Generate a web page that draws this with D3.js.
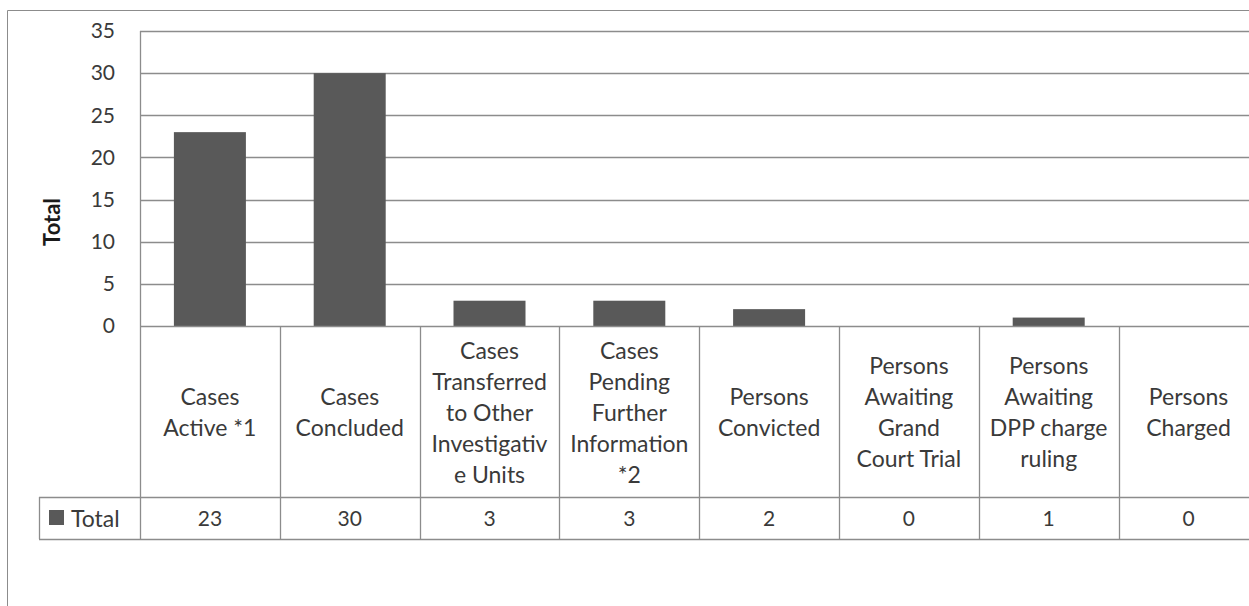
<!DOCTYPE html>
<html>
<head>
<meta charset="utf-8">
<script src="https://cdn.jsdelivr.net/npm/d3@7"></script>
<style>
  body { margin: 0; background: #fff; }
  svg { display: block; font-family: Lato, "Open Sans", sans-serif; }
</style>
</head>
<body>
<div id="mainDiv"></div>
<script>
'use strict';

var categories = ['Cases Active *1', 'Cases Concluded', 'Cases Transferred to Other Investigative Units',
                  'Cases Pending Further Information *2', 'Persons Convicted', 'Persons Awaiting Grand Court Trial',
                  'Persons Awaiting DPP charge ruling', 'Persons Charged'];
var categoryLines = [
    ['Cases', 'Active *1'],
    ['Cases', 'Concluded'],
    ['Cases', 'Transferred', 'to Other', 'Investigativ', 'e Units'],
    ['Cases', 'Pending', 'Further', 'Information', '*2'],
    ['Persons', 'Convicted'],
    ['Persons', 'Awaiting', 'Grand', 'Court Trial'],
    ['Persons', 'Awaiting', 'DPP charge', 'ruling'],
    ['Persons', 'Charged']
];
var totals = [23, 30, 3, 3, 2, 0, 1, 0];
var yTicks = [0, 5, 10, 15, 20, 25, 30, 35];
var seriesName = 'Total';

var chart = {};
chart.width = 1249;
chart.height = 606;
chart.plot = {left: 140, top: 31, bottom: 326};
chart.tableBottom = 539;
chart.valueRowTop = 497;
chart.legendLeft = 39;
chart.textColor = '#3a3a3a';
chart.lineColor = '#8c8c8c';
chart.fontSize = 23;

chart.xScale = d3.scaleBand()
    .domain(categories)
    .range([chart.plot.left, chart.plot.left + 139.8 * categories.length])
    .paddingInner(0).paddingOuter(0);
chart.yScale = d3.scaleLinear().domain([0, 35]).range([chart.plot.bottom, chart.plot.top]);

var svg = d3.select('#mainDiv').append('svg')
    .attr('width', chart.width)
    .attr('height', chart.height);

// outer chart border (cut off at right and bottom)
svg.append('path')
    .attr('d', 'M7.5,' + chart.height + 'V10.5H' + chart.width)
    .attr('fill', 'none').attr('stroke', '#8c8c8c').attr('stroke-width', 1);

// gridlines
svg.append('g').selectAll('line')
    .data(yTicks.slice(1))
    .enter().append('line')
    .attr('x1', chart.plot.left).attr('x2', chart.width)
    .attr('y1', function(d) { return Math.round(chart.yScale(d)) + 0.5; })
    .attr('y2', function(d) { return Math.round(chart.yScale(d)) + 0.5; })
    .attr('stroke', chart.lineColor).attr('stroke-width', 1.3);

// y axis
var yAxis = d3.axisLeft(chart.yScale).tickValues(yTicks).tickSize(0).tickPadding(0);
var yG = svg.append('g').attr('transform', 'translate(' + (chart.plot.left - 25) + ',0)').call(yAxis);
yG.select('.domain').remove();
yG.selectAll('text')
    .attr('font-size', 21).attr('fill', chart.textColor)
    .attr('font-family', 'Lato, "Open Sans", sans-serif');

svg.append('text')
    .attr('transform', 'translate(60,' + 222 + ') rotate(-90)')
    .attr('text-anchor', 'middle')
    .attr('font-size', 22).attr('font-weight', 'bold').attr('fill', '#1a1a1a')
    .text('Total');

// bars
var barW = 72;
svg.append('g').selectAll('rect')
    .data(totals)
    .enter().append('rect')
    .attr('x', function(d, i) { return chart.xScale(categories[i]) + chart.xScale.bandwidth() / 2 - barW / 2; })
    .attr('y', function(d) { return chart.yScale(d); })
    .attr('width', barW)
    .attr('height', function(d) { return chart.plot.bottom - chart.yScale(d); })
    .attr('fill', '#595959');

// data table lines
var grid = svg.append('g').attr('stroke', chart.lineColor).attr('stroke-width', 1.3);
grid.append('line')
    .attr('x1', chart.plot.left).attr('x2', chart.width)
    .attr('y1', chart.plot.bottom + 0.5).attr('y2', chart.plot.bottom + 0.5);
grid.append('line')
    .attr('x1', chart.plot.left + 0.5).attr('x2', chart.plot.left + 0.5)
    .attr('y1', chart.plot.top).attr('y2', chart.tableBottom);
grid.selectAll('.sep')
    .data(categories.slice(1))
    .enter().append('line')
    .attr('x1', function(d) { return Math.round(chart.xScale(d)) + 0.5; })
    .attr('x2', function(d) { return Math.round(chart.xScale(d)) + 0.5; })
    .attr('y1', chart.plot.bottom).attr('y2', chart.tableBottom);
grid.append('line')
    .attr('x1', chart.legendLeft).attr('x2', chart.width)
    .attr('y1', chart.valueRowTop + 0.5).attr('y2', chart.valueRowTop + 0.5);
grid.append('line')
    .attr('x1', chart.legendLeft).attr('x2', chart.width)
    .attr('y1', chart.tableBottom + 0.5).attr('y2', chart.tableBottom + 0.5);
grid.append('line')
    .attr('x1', chart.legendLeft + 0.5).attr('x2', chart.legendLeft + 0.5)
    .attr('y1', chart.valueRowTop).attr('y2', chart.tableBottom);

// category labels
var lineH = 31;
var labelMid = (chart.plot.bottom + chart.valueRowTop) / 2 + 1;
var labels = svg.append('g').selectAll('text')
    .data(categoryLines)
    .enter().append('text')
    .attr('text-anchor', 'middle')
    .attr('font-size', chart.fontSize).attr('fill', chart.textColor)
    .attr('transform', function(d, i) {
        return 'translate(' + (chart.xScale(categories[i]) + chart.xScale.bandwidth() / 2) + ',' +
            (labelMid - (d.length - 1) * lineH / 2) + ')';
    });
labels.selectAll('tspan')
    .data(function(d) { return d; })
    .enter().append('tspan')
    .attr('x', 0)
    .attr('y', function(d, j) { return j * lineH; })
    .attr('dy', '0.35em')
    .text(function(d) { return d; });

// values row
var valueMid = (chart.valueRowTop + chart.tableBottom) / 2 + 1;
svg.append('g').selectAll('text')
    .data(totals)
    .enter().append('text')
    .attr('x', function(d, i) { return chart.xScale(categories[i]) + chart.xScale.bandwidth() / 2; })
    .attr('y', valueMid).attr('dy', '0.35em')
    .attr('text-anchor', 'middle')
    .attr('font-size', 21).attr('fill', chart.textColor)
    .text(function(d) { return d; });

// legend key
svg.append('rect')
    .attr('x', 49).attr('y', 510).attr('width', 15).attr('height', 15)
    .attr('fill', '#595959');
svg.append('text')
    .attr('x', 71).attr('y', valueMid).attr('dy', '0.35em')
    .attr('font-size', chart.fontSize).attr('fill', chart.textColor)
    .text(seriesName);
</script>
</body>
</html>
